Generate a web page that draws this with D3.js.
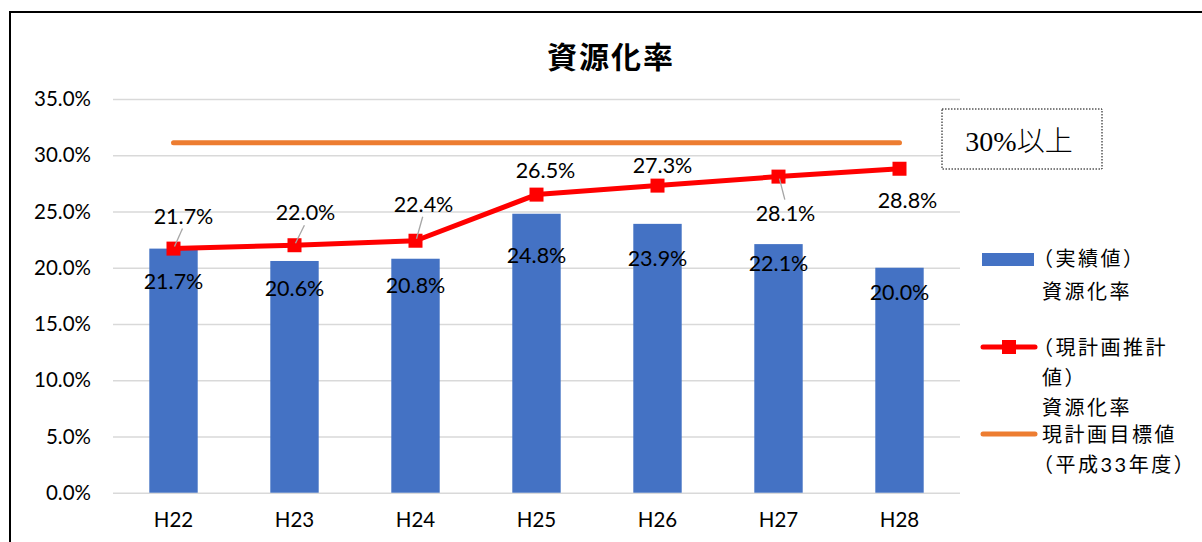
<!DOCTYPE html>
<html lang="ja">
<head>
    <meta charset="UTF-8">
    <title>資源化率</title>
    <script src="https://d3js.org/d3.v7.min.js"></script>
    <style>
        body { margin: 0; background: #fff; }
        svg { display: block; }
        text { font-family: Lato, "Noto Sans CJK JP", sans-serif; fill: #000; }
    </style>
</head>
<body>
    <svg id="chart" width="1202" height="542"></svg>

    <script>
        // data
        const categories = ["H22", "H23", "H24", "H25", "H26", "H27", "H28"];
        const actual = [21.7, 20.6, 20.8, 24.8, 23.9, 22.1, 20.0];
        const projected = [21.7, 22.0, 22.4, 26.5, 27.3, 28.1, 28.8];
        const target = [31.1, 31.1, 31.1, 31.1, 31.1, 31.1, 31.1];
        const yTicks = [0, 5, 10, 15, 20, 25, 30, 35];
        const title = "資源化率";
        const targetNote = "30%以上";
        const legendActual = ["（実績値）", "資源化率"];
        const legendProjected = ["（現計画推計", "値）", "資源化率"];
        const legendTarget = ["現計画目標値", "（平成33年度）"];

        // label placement (Excel labels were dragged by hand)
        const barLabelDy = [32, 27, 26, 41, 34, 19, 24];
        const lineLabelOffset = [[10, -33], [11, -33], [8, -37], [9, -25], [5, -21], [7, 36], [8, 31]];
        const hasLeader = [true, true, true, false, false, true, false];

        const svg = d3.select("#chart");
        const margin = { top: 99, left: 113, right: 242, bottom: 49 };
        const width = 1202 - margin.left - margin.right;
        const height = 542 - margin.top - margin.bottom - 0.3;

        // outer frame
        svg.append("rect")
            .attr("x", 10).attr("y", 12)
            .attr("width", 1300).attr("height", 600)
            .attr("fill", "none").attr("stroke", "#000").attr("stroke-width", 2);

        svg.append("text")
            .attr("x", 611).attr("y", 55)
            .attr("text-anchor", "middle").attr("dominant-baseline", "central")
            .style("font-family", "'Noto Sans CJK JP'")
            .style("font-size", "30px").style("font-weight", "bold")
            .style("letter-spacing", "2px")
            .text(title);

        const g = svg.append("g").attr("transform", `translate(${margin.left},${margin.top})`);

        const x = d3.scaleBand().domain(categories).range([0, width]).paddingInner(0.6).paddingOuter(0.3);
        const y = d3.scaleLinear().domain([0, 35]).range([height, 0]);
        const cx = d => x(d) + x.bandwidth() / 2;

        // gridlines + y axis
        const yAxis = g.append("g")
            .call(d3.axisLeft(y).tickValues(yTicks).tickSize(-width).tickFormat(d => d3.format(".1f")(d) + "%"));
        yAxis.select(".domain").remove();
        yAxis.selectAll(".tick line").attr("stroke", "#d9d9d9").attr("stroke-width", 1.5);
        yAxis.selectAll(".tick text").attr("x", -22).style("font-size", "20.5px").attr("fill", "#000");

        // x axis
        const xAxis = g.append("g")
            .attr("transform", `translate(0,${height})`)
            .call(d3.axisBottom(x).tickSize(0).tickPadding(20));
        xAxis.select(".domain").remove();
        xAxis.selectAll(".tick text").style("font-size", "20.5px").attr("fill", "#000");

        // bars
        g.selectAll(".bar")
            .data(actual)
            .join("rect")
            .attr("class", "bar")
            .attr("x", (d, i) => x(categories[i]))
            .attr("y", d => y(d))
            .attr("width", x.bandwidth())
            .attr("height", d => height - y(d))
            .attr("fill", "#4472c4");

        g.selectAll(".bar-label")
            .data(actual)
            .join("text")
            .attr("class", "bar-label")
            .attr("x", (d, i) => cx(categories[i]))
            .attr("y", (d, i) => y(d) + barLabelDy[i])
            .attr("text-anchor", "middle").attr("dominant-baseline", "central")
            .style("font-size", "21.5px")
            .text(d => d.toFixed(1) + "%");

        // target line
        const line = d3.line().x((d, i) => cx(categories[i])).y(d => y(d));
        g.append("path")
            .attr("d", line(target))
            .attr("fill", "none").attr("stroke", "#ed7d31")
            .attr("stroke-width", 5).attr("stroke-linecap", "round");

        // projected line
        g.append("path")
            .attr("d", line(projected))
            .attr("fill", "none").attr("stroke", "#ff0000")
            .attr("stroke-width", 5).attr("stroke-linejoin", "round");

        g.selectAll(".marker")
            .data(projected)
            .join("rect")
            .attr("class", "marker")
            .attr("x", (d, i) => cx(categories[i]) - 7)
            .attr("y", d => y(d) - 7)
            .attr("width", 14).attr("height", 14)
            .attr("fill", "#ff0000");

        // leader lines
        projected.forEach((d, i) => {
            if (!hasLeader[i]) return;
            const px = cx(categories[i]), py = y(d);
            const [dx, dy] = lineLabelOffset[i];
            const s = dy < 0 ? -1 : 1;
            g.append("line")
                .attr("x1", px + 1).attr("y1", py + s * 2)
                .attr("x2", px + dx * 0.9).attr("y2", py + dy - s * 13)
                .attr("stroke", "#a6a6a6").attr("stroke-width", 1.3);
        });

        g.selectAll(".line-label")
            .data(projected)
            .join("text")
            .attr("class", "line-label")
            .attr("x", (d, i) => cx(categories[i]) + lineLabelOffset[i][0])
            .attr("y", (d, i) => y(d) + lineLabelOffset[i][1])
            .attr("text-anchor", "middle").attr("dominant-baseline", "central")
            .style("font-size", "21.5px")
            .text(d => d.toFixed(1) + "%");

        // 30%以上 note box
        svg.append("rect")
            .attr("x", 942).attr("y", 109).attr("width", 160).attr("height", 60)
            .attr("fill", "#fff").attr("stroke", "#000").attr("stroke-width", 1)
            .attr("stroke-dasharray", "1.5,1.5");
        svg.append("text")
            .attr("x", 1019).attr("y", 141)
            .attr("text-anchor", "middle").attr("dominant-baseline", "central")
            .style("font-family", "'Liberation Serif', 'DejaVu Serif', 'Noto Sans CJK JP'")
            .style("font-size", "28px").style("font-weight", "300")
            .text(targetNote);

        // legend
        const legend = svg.append("g").style("font-family", "'Noto Sans CJK JP'").style("font-size", "20px");
        const legendText = (lines, x0, y0, step) => {
            lines.forEach((t, i) => {
                legend.append("text")
                    .attr("x", t.startsWith("（") ? x0 - 9 : x0).attr("y", y0 + i * step)
                    .attr("dominant-baseline", "central")
                    .style("letter-spacing", "2.5px")
                    .text(t);
            });
        };

        legend.append("rect").attr("x", 982).attr("y", 253).attr("width", 52).attr("height", 13).attr("fill", "#4472c4");
        legendText(legendActual, 1042, 258, 33);

        legend.append("line").attr("x1", 983).attr("x2", 1035).attr("y1", 347).attr("y2", 347)
            .attr("stroke", "#ff0000").attr("stroke-width", 5).attr("stroke-linecap", "round");
        legend.append("rect").attr("x", 1002).attr("y", 340).attr("width", 14).attr("height", 14).attr("fill", "#ff0000");
        legendText(legendProjected, 1042, 347, 30);

        legend.append("line").attr("x1", 983).attr("x2", 1035).attr("y1", 434).attr("y2", 434)
            .attr("stroke", "#ed7d31").attr("stroke-width", 5).attr("stroke-linecap", "round");
        legendText(legendTarget, 1042, 434, 30);
    </script>
</body>
</html>
